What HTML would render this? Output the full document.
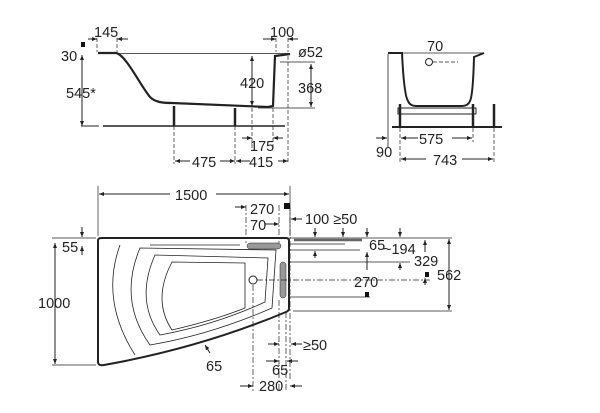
<!DOCTYPE html>
<html><head><meta charset="utf-8"><style>
html,body{margin:0;padding:0;background:#fff;}
svg{display:block;}
text{font-family:"Liberation Sans",sans-serif;font-size:14.5px;fill:#222;}
</style></head><body>
<svg width="600" height="413" viewBox="0 0 600 413" xmlns="http://www.w3.org/2000/svg">
<defs>
<marker id="a" viewBox="0 0 10 10" refX="10" refY="5" markerWidth="6" markerHeight="5" orient="auto-start-reverse"><path d="M0,1 L10,5 L0,9 z" fill="#222"/></marker>
</defs>
<g stroke="#222" fill="none" stroke-width="1">
<!-- SIDE VIEW -->
<path d="M98,53 H116 C126,55 140,85 150,97 C155,102 162,103 172,103 L268,107 L273,106 L275,56 L290,54" stroke-width="2.2"/>
<line x1="98" y1="53.5" x2="288" y2="53.5" stroke-width="0.8"/>
<line x1="103" y1="126" x2="285" y2="126" stroke-width="1.6"/>
<line x1="81" y1="126" x2="99" y2="126"/>
<line x1="174" y1="106" x2="174" y2="126" stroke-width="2.5"/>
<line x1="235" y1="108" x2="235" y2="126" stroke-width="2.5"/>
<g stroke-dasharray="4,2" stroke-width="0.7">
<line x1="174" y1="126" x2="174" y2="164"/><line x1="235" y1="126" x2="235" y2="164"/>
<line x1="252" y1="108" x2="252" y2="150"/><line x1="273" y1="108" x2="273" y2="150"/>
<line x1="288" y1="56" x2="288" y2="164"/>
<line x1="97" y1="38" x2="97" y2="52"/><line x1="117" y1="38" x2="117" y2="52"/>
<line x1="276" y1="38" x2="276" y2="52"/><line x1="288" y1="38" x2="288" y2="52"/>
</g>
<line x1="82" y1="55" x2="82" y2="126" marker-start="url(#a)" marker-end="url(#a)"/>
<line x1="252" y1="56" x2="252" y2="106" marker-start="url(#a)" marker-end="url(#a)"/>
<line x1="311" y1="64" x2="311" y2="107" marker-start="url(#a)" marker-end="url(#a)"/>
<line x1="258" y1="108" x2="315" y2="108" stroke-width="0.7"/>
<line x1="280" y1="62" x2="315" y2="62" stroke-width="0.7"/>
<line x1="88" y1="39" x2="97" y2="39" marker-end="url(#a)"/><line x1="128" y1="39" x2="117" y2="39" marker-end="url(#a)"/>
<line x1="263" y1="39" x2="276" y2="39" marker-end="url(#a)"/><line x1="298" y1="39" x2="288" y2="39" marker-end="url(#a)"/>
<line x1="175" y1="161" x2="190" y2="161" marker-start="url(#a)"/><line x1="220" y1="161" x2="235" y2="161" marker-end="url(#a)"/>
<line x1="236" y1="161" x2="250" y2="161" marker-start="url(#a)"/><line x1="278" y1="161" x2="288" y2="161" marker-end="url(#a)"/>
<line x1="242" y1="138" x2="252" y2="138" marker-end="url(#a)"/><line x1="283" y1="138" x2="273" y2="138" marker-end="url(#a)"/>
<!-- END VIEW -->
<path d="M388,53 H402 Q404,95 408,101 Q410,106 416,106 H462 Q468,106 470,101 Q473,95 474,57 L484,53" stroke-width="2"/>
<line x1="388" y1="53" x2="484" y2="53" stroke-width="0.8"/>
<rect x="398" y="108" width="78" height="6"/>
<line x1="392" y1="127" x2="502" y2="127" stroke-width="2"/>
<line x1="400" y1="104" x2="400" y2="127" stroke-width="2.5"/><line x1="473" y1="104" x2="473" y2="127" stroke-width="2.5"/>
<line x1="494" y1="104" x2="494" y2="127" stroke-width="2.5"/>
<line x1="388" y1="54" x2="388" y2="148" stroke-width="0.8"/>
<circle cx="429" cy="62" r="3.5"/>
<line x1="433" y1="62" x2="458" y2="62" stroke-dasharray="4,2" stroke-width="0.7"/>
<g stroke-dasharray="4,2" stroke-width="0.7"><line x1="400" y1="128" x2="400" y2="163"/><line x1="473" y1="128" x2="473" y2="142"/><line x1="494" y1="128" x2="494" y2="163"/></g>
<line x1="401" y1="138" x2="418" y2="138" marker-start="url(#a)"/><line x1="452" y1="138" x2="472" y2="138" marker-end="url(#a)"/>
<line x1="401" y1="159" x2="426" y2="159" marker-start="url(#a)"/><line x1="462" y1="159" x2="493" y2="159" marker-end="url(#a)"/>
<line x1="376" y1="138" x2="387" y2="138" marker-end="url(#a)"/>
<!-- PLAN VIEW -->
<path d="M101,238 H286 Q289,238 289,241 V308 Q289,311 286,312 Q200,348 104,365 Q98,366 98,362 V241 Q98,238 101,238 Z" stroke-width="2"/>
<path d="M120,245 Q100,300 135,355" stroke-width="0.8"/>
<path d="M140,248 Q118,300 150,345 Q210,335 272,308 L276,250 Z" stroke-width="0.8"/>
<path d="M155,255 Q135,300 160,335 Q215,325 265,302 L268,258 Z" stroke-width="0.8"/>
<path d="M172,262 Q152,300 172,330 Q215,320 245,308 L245,263 Z" stroke-width="0.8"/>
<path d="M150,245 H240" stroke-width="0.8"/>
<rect x="247" y="243" width="34" height="6" rx="3" fill="#999" stroke-width="0.5"/>
<rect x="280" y="262" width="6" height="36" rx="3" fill="#999" stroke-width="0.5"/>
<circle cx="253" cy="280" r="4"/>
<line x1="98" y1="186" x2="98" y2="236" stroke-width="0.7"/><line x1="290" y1="186" x2="290" y2="236" stroke-width="0.7"/>
<line x1="99" y1="194" x2="170" y2="194" marker-start="url(#a)"/><line x1="216" y1="194" x2="289" y2="194" marker-end="url(#a)"/>
<line x1="55" y1="243" x2="55" y2="364" marker-start="url(#a)" marker-end="url(#a)"/>
<line x1="52" y1="238" x2="96" y2="238" stroke-width="0.7"/><line x1="52" y1="365" x2="96" y2="365" stroke-width="0.7"/>
<line x1="82" y1="227" x2="82" y2="237" marker-end="url(#a)"/><line x1="82" y1="255" x2="82" y2="246" marker-end="url(#a)"/>
<g stroke-dasharray="6,2,2,2" stroke-width="0.7">
<line x1="253" y1="285" x2="253" y2="392"/><line x1="257" y1="280" x2="430" y2="280"/>
<line x1="246" y1="205" x2="246" y2="243"/><line x1="279" y1="205" x2="279" y2="243"/>
<line x1="290" y1="205" x2="290" y2="380"/><line x1="279" y1="300" x2="279" y2="392"/><line x1="286" y1="312" x2="286" y2="392"/>
</g>
<line x1="290" y1="238" x2="452" y2="238" stroke-width="0.7"/>
<line x1="290" y1="244" x2="345" y2="244" stroke-width="0.7"/>
<line x1="290" y1="250" x2="360" y2="250" stroke-width="0.7"/>
<line x1="290" y1="262" x2="410" y2="262" stroke-width="0.7"/>
<line x1="290" y1="297" x2="370" y2="297" stroke-width="0.7"/>
<line x1="293" y1="311" x2="452" y2="311" stroke-width="0.7"/>
<line x1="294" y1="240" x2="362" y2="240" stroke-width="2.5" stroke="#666"/>
<line x1="449" y1="239" x2="449" y2="310" marker-start="url(#a)" marker-end="url(#a)"/>
<line x1="425" y1="252" x2="425" y2="240" marker-end="url(#a)"/><line x1="425" y1="285" x2="425" y2="278" marker-end="url(#a)"/>
<line x1="400" y1="228" x2="400" y2="237" marker-end="url(#a)"/><line x1="400" y1="270" x2="400" y2="263" marker-end="url(#a)"/>
<line x1="367" y1="228" x2="367" y2="237" marker-end="url(#a)"/><line x1="367" y1="270" x2="367" y2="252" marker-end="url(#a)"/>
<line x1="315" y1="228" x2="315" y2="237" marker-end="url(#a)"/><line x1="315" y1="258" x2="315" y2="251" marker-end="url(#a)"/>
<line x1="343" y1="228" x2="343" y2="237" marker-end="url(#a)"/>
<line x1="235" y1="207" x2="246" y2="207" marker-end="url(#a)"/>
<line x1="265" y1="224" x2="279" y2="224" marker-end="url(#a)"/>
<line x1="302" y1="219" x2="291" y2="219" marker-end="url(#a)"/>
<line x1="268" y1="344" x2="279" y2="344" marker-end="url(#a)"/><line x1="302" y1="344" x2="291" y2="344" marker-end="url(#a)"/>
<line x1="266" y1="361" x2="279" y2="361" marker-end="url(#a)"/><line x1="298" y1="361" x2="287" y2="361" marker-end="url(#a)"/>
<line x1="240" y1="386" x2="253" y2="386" marker-end="url(#a)"/><line x1="302" y1="386" x2="290" y2="386" marker-end="url(#a)"/>
<line x1="210" y1="353" x2="205" y2="345" marker-end="url(#a)"/>
</g>
<g fill="#111">
<rect x="81" y="42" width="4" height="5"/><rect x="284" y="203" width="6" height="6"/>
<rect x="425" y="272" width="4" height="5"/><rect x="365" y="292" width="4" height="5"/>
</g>
<text x="94" y="37">145</text><text x="270" y="37">100</text>
<text x="61" y="61">30</text><text x="66" y="98">545*</text>
<text x="298" y="57">ø52</text><text x="240" y="88">420</text><text x="298" y="93">368</text>
<text x="250" y="151">175</text><text x="192" y="167">475</text><text x="249" y="167">415</text>
<text x="427" y="51">70</text><text x="376" y="157">90</text><text x="419" y="144">575</text><text x="433" y="165">743</text>
<text x="175" y="200">1500</text><text x="38" y="308">1000</text><text x="62" y="252">55</text>
<text x="250" y="214">270</text><text x="250" y="230">70</text><text x="305" y="224">100 ≥50</text>
<text x="369" y="250">65</text><text x="383" y="254">~194</text><text x="414" y="266">329</text>
<text x="437" y="280">562</text><text x="354" y="287">270</text>
<text x="303" y="350">≥50</text><text x="272" y="375">65</text><text x="259" y="391">280</text><text x="206" y="371">65</text>
</svg>
</body></html>
